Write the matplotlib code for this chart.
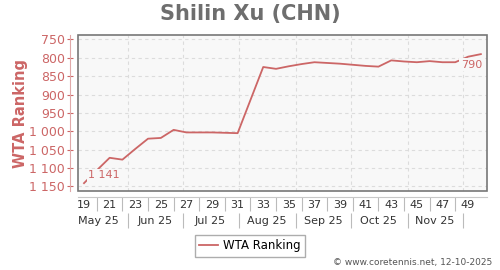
import datetime as dt
import matplotlib
matplotlib.use("Agg")
import matplotlib.pyplot as plt
from matplotlib.patches import Rectangle
from matplotlib.ticker import FuncFormatter

# data (ISO week of 2025 -> WTA rank)
weeks = list(range(19, 51))
ranks = [1141, 1106, 1072, 1077, 1048, 1020, 1018, 996, 1003, 1003, 1003, 1004,
         1005, 915, 825, 830, 823, 817, 812, 814, 816, 819, 822, 824, 807, 810,
         812, 809, 812, 812, 797, 790]
week_labels = list(range(19, 50, 2))
month_starts = [dt.date(2025, m, 1) for m in range(5, 13)]
month_names = ["May 25", "Jun 25", "Jul 25", "Aug 25", "Sep 25", "Oct 25", "Nov 25"]
y_ticks = [750, 800, 850, 900, 950, 1000, 1050, 1100, 1150]

RED = "#cc6666"
GRID = "#dcdcdc"

# week w is centred on its Thursday
ref_day = dt.date.fromisocalendar(2025, 19, 4)


def to_week(d):
    return 19 + (d - ref_day).days / 7.0


def fmt_rank(v, pos=None):
    return f"{int(v):,}".replace(",", " ")


fig = plt.figure(figsize=(5, 2.7), dpi=100)
ax = fig.add_axes([0.156, 0.2944, 0.818, 0.5759])
ax.set_facecolor("#f8f8f8")

ax.plot(weeks, ranks, color=RED, lw=1.3, zorder=3)
ax.set_xlim(18.53, 50.48)
ax.set_ylim(1161, 738)

# grid
ax.set_yticks(y_ticks)
ax.yaxis.set_major_formatter(FuncFormatter(fmt_rank))
ax.grid(axis="y", color=GRID, ls=(0, (3, 3)), lw=0.8)
for d in month_starts[1:]:
    ax.axvline(to_week(d), color=GRID, ls=(0, (3, 3)), lw=0.8, zorder=1)

# frame + offset axes
for s in ["top", "right"]:
    ax.spines[s].set_visible(False)
ax.add_patch(Rectangle((0, 0), 1, 1, transform=ax.transAxes, fill=False,
                       edgecolor="#777777", lw=1.2, clip_on=False, zorder=5))
ax.spines["left"].set_position(("outward", 5.5))
ax.spines["left"].set_color("#e0a8a8")
ax.spines["bottom"].set_position(("outward", 4.5))
ax.spines["bottom"].set_color("#c8c8c8")

ax.tick_params(axis="y", colors=RED, labelsize=9, length=4, width=0.8,
               direction="inout", pad=2)

ax.set_xticks(week_labels)
ax.set_xticks([w + 1 for w in week_labels[:-1]], minor=True)
ax.tick_params(axis="x", which="major", length=0, labelsize=8, colors="#333333", pad=2.5)
ax.tick_params(axis="x", which="minor", length=10, width=0.8, colors="#bbbbbb")

# month row
sec = ax.secondary_xaxis(-0.145)
sec.spines["bottom"].set_visible(False)
mids = [to_week(a + (b - a) / 2) for a, b in zip(month_starts[:-1], month_starts[1:])]
sec.set_xticks(mids)
sec.set_xticklabels(month_names)
sec.set_xticks([to_week(d) for d in month_starts[1:]], minor=True)
sec.tick_params(axis="x", which="major", length=0, labelsize=8, colors="#333333", pad=2)
sec.tick_params(axis="x", which="minor", length=11, width=0.8, colors="#bbbbbb")

# end labels
box = dict(facecolor="#f8f8f8", edgecolor="none", pad=1.2)
ax.annotate(fmt_rank(ranks[0]), (weeks[0], ranks[0]), xytext=(3, 2),
            textcoords="offset points", ha="left", va="bottom", fontsize=8,
            color=RED, bbox=box, zorder=4)
ax.annotate(fmt_rank(ranks[-1]), (weeks[-1], ranks[-1]), xytext=(1, -4),
            textcoords="offset points", ha="right", va="top", fontsize=8,
            color=RED, bbox=box, zorder=4)

fig.text(0.5, 1 - 14 / 270, "Shilin Xu (CHN)", ha="center", va="center",
         fontsize=15, fontweight="bold", color="#6e6e6e")
fig.text(0.042, 1 - 113 / 270, "WTA Ranking", rotation=90, ha="center", va="center",
         fontsize=10.5, fontweight="bold", color=RED)

fig.legend(handles=ax.lines[:1], labels=["WTA Ranking"], loc="center",
           bbox_to_anchor=(0.5, 1 - 246 / 270), fontsize=8.5, frameon=True,
           fancybox=False, edgecolor="#999999", handlelength=1.6,
           handletextpad=0.4, borderpad=0.35, borderaxespad=0)
fig.text(0.984, 1 - 262 / 270, "\u00a9 www.coretennis.net, 12-10-2025",
         ha="right", va="center", fontsize=6.5, color="#555555")

fig.savefig("out.png", dpi=100)
